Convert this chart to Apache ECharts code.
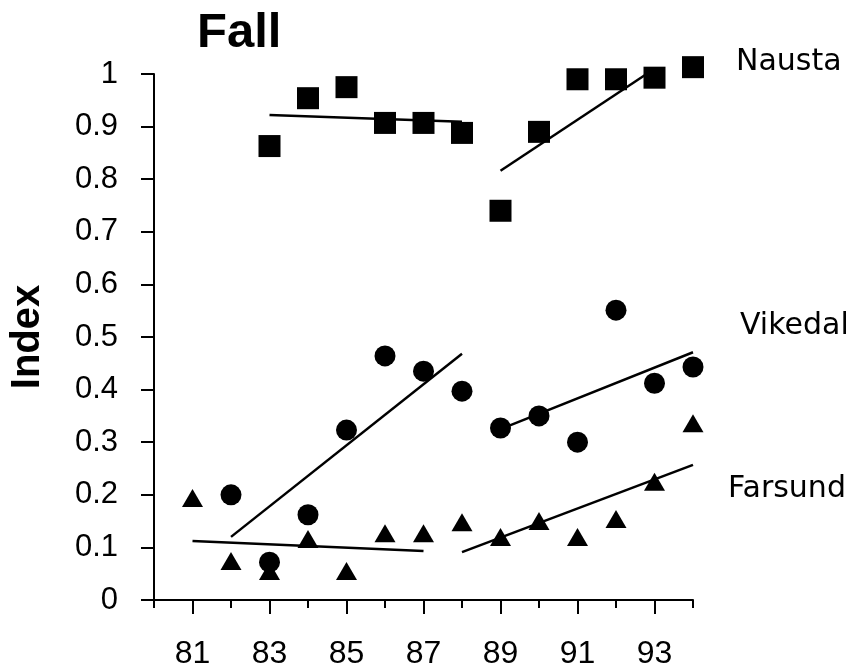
<!DOCTYPE html>
<html>
<head>
<meta charset="utf-8">
<script src="https://cdn.jsdelivr.net/npm/echarts@6/dist/echarts.min.js"></script>
<style>
  html, body { margin: 0; padding: 0; background: #fff; }
  #chart { width: 859px; height: 670px; }
</style>
</head>
<body>
<div id="chart"></div>
<script>
// valores (indice de otono por rio)
var anosNausta = [83, 84, 85, 86, 87, 88, 89, 90, 91, 92, 93, 94];
var nausta = [0.863, 0.954, 0.975, 0.907, 0.907, 0.888, 0.74, 0.89, 0.99, 0.99, 0.993, 1.013];

var anosVikedal = [82, 83, 84, 85, 86, 87, 88, 89, 90, 91, 92, 93, 94];
var vikedal = [0.2, 0.072, 0.162, 0.323, 0.464, 0.435, 0.397, 0.327, 0.35, 0.3, 0.551, 0.412, 0.443];

var anosFarsund = [81, 82, 83, 84, 85, 86, 87, 88, 89, 90, 91, 92, 93, 94];
var farsund = [0.194, 0.074, 0.055, 0.116, 0.055, 0.127, 0.127, 0.148, 0.12, 0.15, 0.12, 0.154, 0.225, 0.336];

// rectas de regresion: [ano inicio, valor inicio, ano fin, valor fin]
var tendencias = [
  [83, 0.922, 88, 0.909],
  [89, 0.816, 93, 1.01],
  [82, 0.12, 88, 0.468],
  [89, 0.325, 94, 0.471],
  [81, 0.112, 87, 0.093],
  [88, 0.091, 94, 0.257]
];

var etiquetasX = [81, 83, 85, 87, 89, 91, 93];
var nombresRios = ["Nausta", "Vikedal", "Farsund"];

function emparejar(xs, ys) {
  return xs.map(function (x, i) { return [x, ys[i]]; });
}

var negro = "#000";
var fuente = "'Liberation Sans', Arial, sans-serif";

var series = [];
tendencias.forEach(function (t) {
  series.push({
    type: "line",
    data: [[t[0], t[1]], [t[2], t[3]]],
    symbol: "none",
    clip: false,
    lineStyle: { color: negro, width: 2.5 },
    z: 2,
    silent: true
  });
});
series.push({
  name: nombresRios[0], type: "scatter", data: emparejar(anosNausta, nausta), clip: false,
  symbol: "rect", symbolSize: 22, itemStyle: { color: negro, opacity: 1 }, z: 5
});
series.push({
  name: nombresRios[1], type: "scatter", data: emparejar(anosVikedal, vikedal), clip: false,
  symbol: "circle", symbolSize: 21, itemStyle: { color: negro, opacity: 1 }, z: 5
});
series.push({
  name: nombresRios[2], type: "scatter", data: emparejar(anosFarsund, farsund), clip: false,
  symbol: "triangle", symbolSize: [21, 18], itemStyle: { color: negro, opacity: 1 }, z: 4
});

var option = {
  animation: false,
  backgroundColor: "#fff",
  grid: { left: 154, right: 166, top: 74, bottom: 70 },
  xAxis: [
    {
      type: "value", min: 80, max: 94, interval: 1, position: "bottom",
      axisLine: { lineStyle: { color: negro, width: 2 } },
      axisTick: { length: 8, lineStyle: { color: negro, width: 2 } },
      axisLabel: {
        margin: 38, color: negro, fontSize: 32, fontFamily: fuente,
        formatter: function (v) { return etiquetasX.indexOf(v) >= 0 ? String(v) : ""; }
      },
      splitLine: { show: false }
    },
    {
      type: "value", min: 80, max: 94, position: "bottom", offset: 0,
      axisLine: { show: false },
      axisTick: { show: true, length: 14, customValues: etiquetasX, lineStyle: { color: negro, width: 2 } },
      axisLabel: { show: false },
      splitLine: { show: false }
    }
  ],
  yAxis: {
    type: "value", min: 0, max: 1, interval: 0.1,
    axisLine: { show: true, lineStyle: { color: negro, width: 2 } },
    axisTick: { show: true, length: 13, lineStyle: { color: negro, width: 2 } },
    axisLabel: {
      margin: 36, color: negro, fontSize: 31, fontFamily: fuente,
      formatter: function (v) {
        if (v === 0) return "0";
        if (Math.abs(v - 1) < 1e-9) return "1";
        return v.toFixed(1);
      }
    },
    splitLine: { show: false }
  },
  graphic: [
    {
      type: "text", left: 197, top: 9,
      style: { text: "Fall", font: "bold 49px " + fuente, fill: negro }
    },
    {
      type: "text", x: 28, y: 337, rotation: Math.PI / 2,
      style: { text: "Index", font: "bold 40px " + fuente, fill: negro, align: "center", verticalAlign: "middle" }
    },
    {
      type: "text", x: 736, y: 62,
      style: { text: nombresRios[0], font: "30px 'DejaVu Sans', sans-serif", fill: negro, verticalAlign: "middle" }
    },
    {
      type: "text", x: 740, y: 326,
      style: { text: nombresRios[1], font: "30px 'DejaVu Sans', sans-serif", fill: negro, verticalAlign: "middle" }
    },
    {
      type: "text", x: 728, y: 489,
      style: { text: nombresRios[2], font: "30px 'DejaVu Sans', sans-serif", fill: negro, verticalAlign: "middle" }
    }
  ],
  series: series
};

var miGrafica = echarts.init(document.getElementById("chart"), null, { renderer: "canvas" });
miGrafica.setOption(option);
</script>
</body>
</html>
